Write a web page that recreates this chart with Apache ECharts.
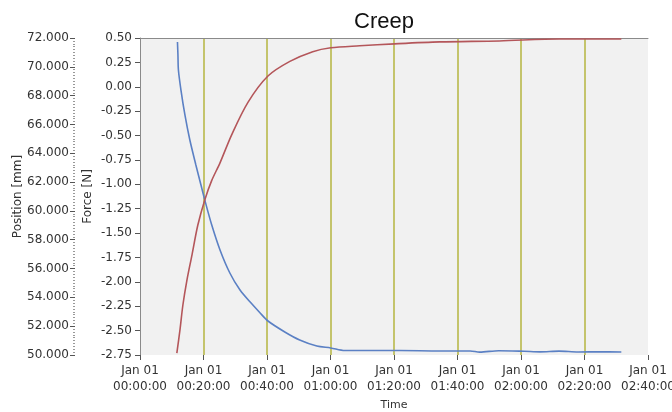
<!DOCTYPE html>
<html><head><meta charset="utf-8">
<script src="https://cdn.jsdelivr.net/npm/echarts@6/dist/echarts.min.js"></script>
<style>html,body{margin:0;padding:0;background:#fff}#c{width:672px;height:412px}</style>
</head><body><div id="c"></div>
<script>
// time in minutes since Jan 01 00:00:00
const xTicks = [0, 20, 40, 60, 80, 100, 120, 140, 160];
const posTime = [11.8, 11.95, 12.1, 12.9, 14.15, 15.7, 17.6, 19.2, 20.4, 22.6, 25.2, 28.3, 31.5, 35.2, 37.7, 40.3, 45.6, 50.3, 55.7, 60.1, 64.5, 81.8, 94.4, 104, 107, 113, 121, 126, 132, 138, 145, 151.6];
const posValues = [71.72, 70.82, 69.78, 68.39, 66.66, 64.92, 63.19, 61.80, 60.76, 59.02, 57.29, 55.69, 54.51, 53.55, 52.95, 52.36, 51.60, 51.04, 50.62, 50.49, 50.31, 50.31, 50.28, 50.28, 50.20, 50.30, 50.26, 50.22, 50.27, 50.21, 50.22, 50.21];
const forceTime = [11.6, 12.6, 13.5, 14.8, 16.4, 18.2, 20.4, 22.6, 25.2, 28.9, 34.0, 40.3, 47.2, 54.4, 60.1, 69.2, 80.2, 94.4, 113.2, 132.1, 151.6];
const forceValues = [-2.73, -2.49, -2.24, -1.98, -1.72, -1.42, -1.16, -0.96, -0.78, -0.49, -0.16, 0.11, 0.26, 0.36, 0.40, 0.42, 0.44, 0.46, 0.47, 0.49, 0.49];

const posData = posTime.map((t, i) => [t, posValues[i]]);
const forceData = forceTime.map((t, i) => [t, forceValues[i]]);
const pad = n => (n < 10 ? '0' : '') + n;
const FONT = 'DejaVu Sans';
const chart = echarts.init(document.getElementById('c'));
chart.setOption({
  animation: false,
  textStyle: { fontFamily: FONT },
  title: { text: 'Creep', left: 349, top: 6, textStyle: { fontFamily: 'Liberation Sans', fontSize: 22, fontWeight: 'normal', color: '#111' } },
  grid: { left: 140, right: 24, top: 38, bottom: 57, show: true, backgroundColor: '#f1f1f1', borderWidth: 0, containLabel: false, outerBoundsMode: 'none' },
  xAxis: [{
    type: 'value', min: 0, max: 160, interval: 20,
    name: 'Time', nameLocation: 'middle', nameGap: 45, nameMoveOverlap: false,
    nameTextStyle: { fontFamily: FONT, fontSize: 11, color: '#333' },
    axisLine: { show: false, onZero: false },
    axisTick: { show: true, length: 5, lineStyle: { color: '#555' } },
    axisLabel: { fontFamily: FONT, fontSize: 12, color: '#333', lineHeight: 16, margin: 8,
      formatter: v => 'Jan 01\n' + pad(Math.floor(v / 60)) + ':' + pad(v % 60) + ':00' },
    splitLine: { show: true, showMinLine: false, showMaxLine: false, lineStyle: { color: '#c4c46c', width: 2 } }
  }, {
    type: 'value', min: 0, max: 160, position: 'top',
    axisLine: { show: true, onZero: false, lineStyle: { color: '#8a8a8a' } },
    axisTick: { show: false }, axisLabel: { show: false }, splitLine: { show: false }
  }],
  yAxis: [{
    type: 'value', min: -2.75, max: 0.5, interval: 0.25, position: 'left',
    name: 'Force [N]', nameLocation: 'middle', nameGap: 46, nameRotate: 90, nameMoveOverlap: false,
    nameTextStyle: { fontFamily: FONT, fontSize: 12, color: '#333' },
    axisLine: { show: true, onZero: false, lineStyle: { color: '#8a8a8a' } },
    axisTick: { show: true, length: 5, lineStyle: { color: '#555' } },
    axisLabel: { fontFamily: FONT, fontSize: 12, color: '#333', margin: 8, formatter: v => v.toFixed(2) },
    splitLine: { show: false }
  }, {
    type: 'value', min: 50, max: 72, interval: 2, position: 'left', offset: 65,
    name: 'Position [mm]', nameLocation: 'middle', nameGap: 51, nameRotate: 90, nameMoveOverlap: false,
    nameTextStyle: { fontFamily: FONT, fontSize: 12, color: '#333' },
    axisLine: { show: false, onZero: false },
    axisTick: { show: true, length: 5, lineStyle: { color: '#555' } },
    minorTick: { show: true, splitNumber: 10, length: 2, lineStyle: { color: '#999' } },
    axisLabel: { fontFamily: FONT, fontSize: 12, color: '#333', margin: 6, formatter: v => v.toFixed(3) },
    splitLine: { show: false }
  }],
  series: [{
    name: 'Position', type: 'line', yAxisIndex: 1, data: posData, showSymbol: false, smooth: 0.3,
    lineStyle: { color: '#5b80c4', width: 1.6 }, z: 3
  }, {
    name: 'Force', type: 'line', yAxisIndex: 0, data: forceData, showSymbol: false, smooth: 0.3,
    lineStyle: { color: '#b4565a', width: 1.6 }, z: 3
  }]
});
</script></body></html>
